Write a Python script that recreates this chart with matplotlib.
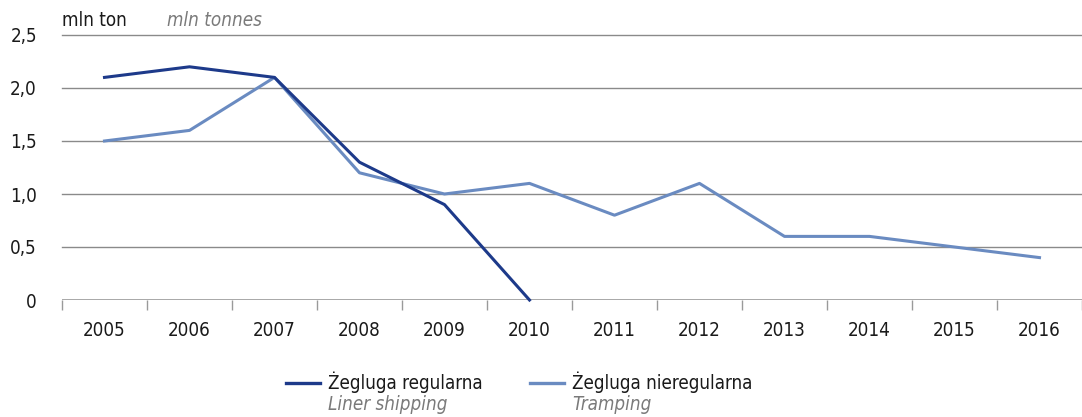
import numpy as np
import matplotlib
matplotlib.use("Agg")
import matplotlib.pyplot as plt
from matplotlib.lines import Line2D

plt.rcParams['font.family'] = ['DejaVu Sans']
plt.rcParams['font.stretch'] = 'condensed'

years = ["2005", "2006", "2007", "2008", "2009", "2010",
         "2011", "2012", "2013", "2014", "2015", "2016"]
liner = [2.1, 2.2, 2.1, 1.3, 0.9, 0.0]
tramping = [1.5, 1.6, 2.1, 1.2, 1.0, 1.1, 0.8, 1.1, 0.6, 0.6, 0.5, 0.4]
yticks = [0, 0.5, 1.0, 1.5, 2.0, 2.5]
ytick_labels = ["0", "0,5", "1,0", "1,5", "2,0", "2,5"]

c_liner = "#1d3a8a"
c_tramp = "#6a8bc1"
grey = "#7a7a7a"
fs = 13.5

W, H = 1082, 417
fig = plt.figure(figsize=(W / 100, H / 100), dpi=100)
ax = fig.add_axes([62 / W, (H - 300) / H, 1 - 62 / W, 265 / H])

x = np.arange(len(years))
ax.set_xlim(-0.5, len(years) - 0.5)
ax.set_ylim(0, 2.5)

for yv in yticks[1:]:
    ax.axhline(yv, color="#8a8a8a", lw=1.0, zorder=1, clip_on=False)
ax.axhline(0, color="#9a9a9a", lw=1.2, zorder=1)

ax.plot(x[:len(liner)], liner, color=c_liner, lw=2.2, zorder=3, clip_on=False)
ax.plot(x, tramping, color=c_tramp, lw=2.2, zorder=2, clip_on=False)

for s in ax.spines.values():
    s.set_visible(False)

# boundary ticks between categories
ax.set_xticks(np.arange(-0.5, len(years), 1.0))
ax.set_xticklabels([])
ax.tick_params(axis="x", length=7, width=1.0, color="#9a9a9a", direction="out")
ax.set_xticks(x, minor=True)
ax.set_xticklabels(years, minor=True, fontsize=fs, color="#1a1a1a")
ax.tick_params(axis="x", which="minor", length=0, pad=15)

ax.set_yticks(yticks)
ax.set_yticklabels(ytick_labels, fontsize=fs, color="#1a1a1a")
ax.tick_params(axis="y", length=0, pad=18)

fig.text(62 / W, 1 - 21 / H, "mln ton", fontsize=fs, color="#1a1a1a", va="center")
fig.text(167 / W, 1 - 21 / H, "mln tonnes", fontsize=fs, color=grey,
         style="italic", va="center")

# legend
legend_items = [
    (286, c_liner, "Żegluga regularna", "Liner shipping"),
    (530, c_tramp, "Żegluga nieregularna", "Tramping"),
]
for x0, col, pl, en in legend_items:
    fig.add_artist(Line2D([x0 / W, (x0 + 34) / W], [1 - 383 / H] * 2,
                          color=col, lw=2.4, transform=fig.transFigure))
    fig.text((x0 + 42) / W, 1 - 382 / H, pl, fontsize=fs,
             color="#1a1a1a", va="center")
    fig.text((x0 + 42) / W, 1 - 405 / H, en, fontsize=fs,
             color=grey, style="italic", va="center")

fig.savefig("out.png", dpi=100)
